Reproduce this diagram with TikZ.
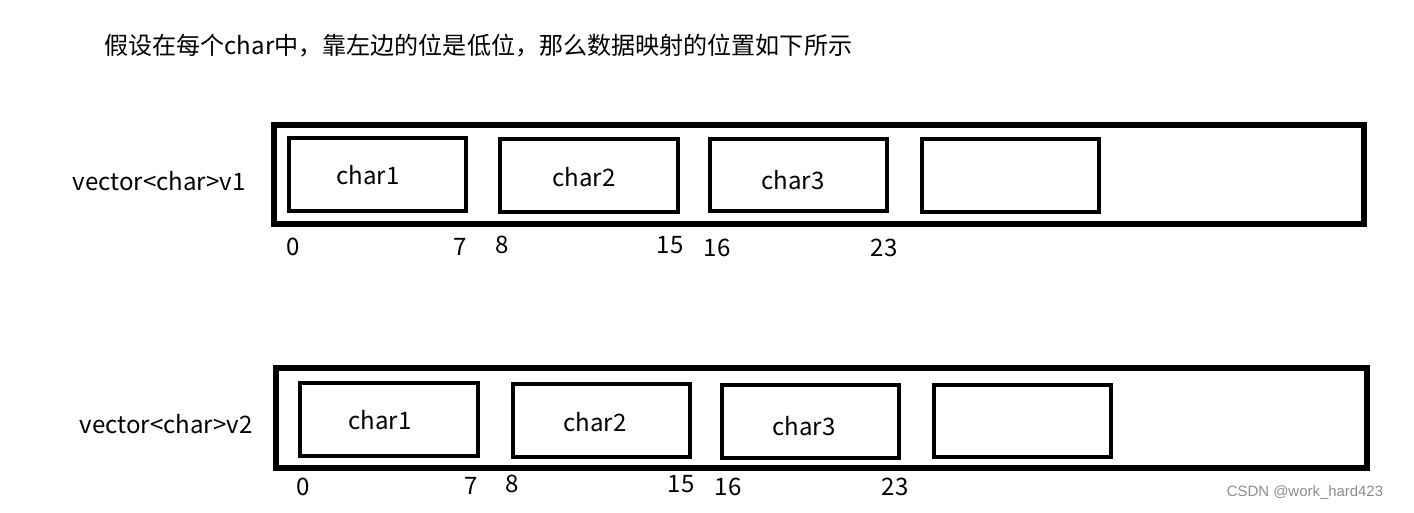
\documentclass[tikz,border=0pt]{standalone}
\usepackage{fontspec}
\setmainfont{Noto Sans CJK SC}
\newfontfamily\markfont{Liberation Sans}
\tikzset{
    outerbox/.style={line width=3pt},
    charbox/.style={line width=2.4pt},
    lbl/.style={inner sep=0pt, font=\fontsize{13.7pt}{15pt}\selectfont},
}
\begin{document}
\begin{tikzpicture}[x=0.02cm,y=-0.02cm]
    \useasboundingbox (0,0) rectangle (1414,512);
    \node[lbl, anchor=west] (title) at (104,46) {假设在每个char中，靠左边的位是低位，那么数据映射的位置如下所示};

    % v1
    \draw[outerbox] (274,125) rectangle (1364,224);
    \draw[charbox] (289,138) rectangle (466,211);
    \draw[charbox] (500,139) rectangle (678,212);
    \draw[charbox] (710,139) rectangle (887,211);
    \draw[charbox] (922,139) rectangle (1099,212);
    \node[lbl] (va) at (159,181) {vector<char>v1};
    \node[lbl] (ca1) at (368,175) {char1};
    \node[lbl] (ca2) at (584,177) {char2};
    \node[lbl] (ca3) at (793,180) {char3};
    \node[lbl] (na0) at (293,247) {0};
    \node[lbl] (na7) at (460,247) {7};
    \node[lbl] (na8) at (502,245) {8};
    \node[lbl] (na15) at (670,245) {15};
    \node[lbl] (na16) at (717,248) {16};
    \node[lbl] (na23) at (884,248) {23};

    % v2
    \draw[outerbox] (276,368) rectangle (1367,468);
    \draw[charbox] (300,383) rectangle (478,456);
    \draw[charbox] (513,384) rectangle (690,457);
    \draw[charbox] (722,385) rectangle (899,458);
    \draw[charbox] (934,385) rectangle (1111,457);
    \node[lbl] (vb) at (166,424) {vector<char>v2};
    \node[lbl] (cb1) at (380,420) {char1};
    \node[lbl] (cb2) at (595,422) {char2};
    \node[lbl] (cb3) at (804,426) {char3};
    \node[lbl] (nb0) at (303,487) {0};
    \node[lbl] (nb7) at (471,486) {7};
    \node[lbl] (nb8) at (512,484) {8};
    \node[lbl] (nb15) at (681,484) {15};
    \node[lbl] (nb16) at (728,487) {16};
    \node[lbl] (nb23) at (895,487) {23};

    \node[inner sep=0pt, text=black!45, font=\markfont\fontsize{8.5pt}{10pt}\selectfont] (mark) at (1305,493) {CSDN @work\_hard423};
\end{tikzpicture}
\end{document}
